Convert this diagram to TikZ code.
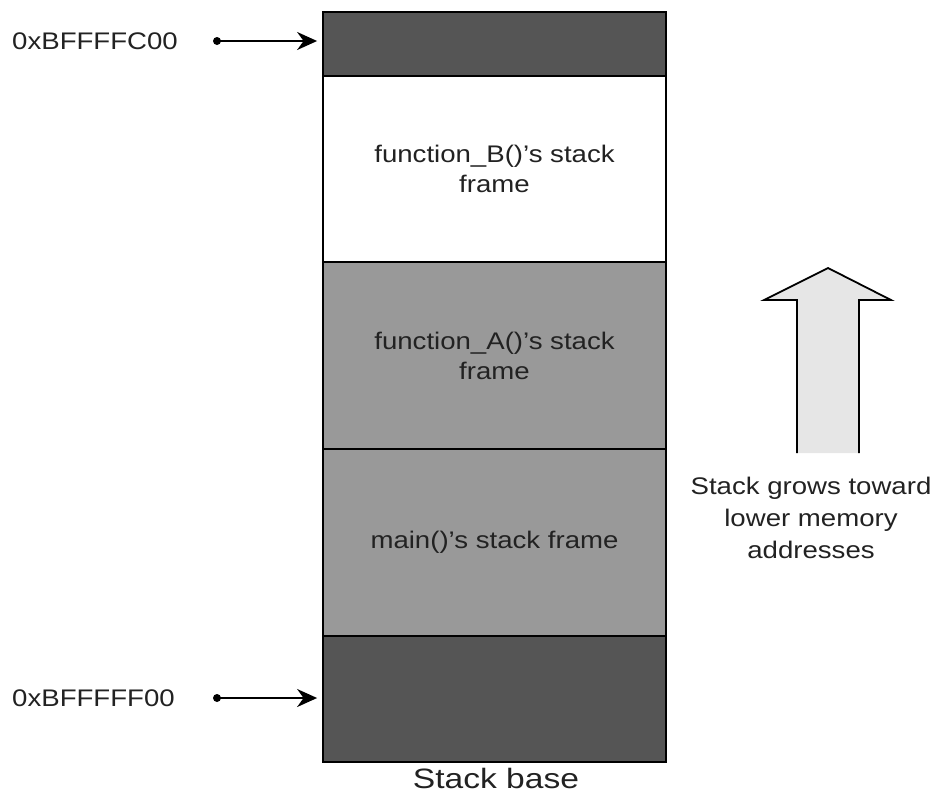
\documentclass[tikz,border=0pt]{standalone}
\usepackage{fontspec}
\setmainfont{Liberation Sans}[FakeStretch=1.15]
\newfontfamily\basefont{Liberation Sans}[FakeStretch=1.2]
\usetikzlibrary{arrows.meta}
\definecolor{darkfill}{HTML}{555555}
\definecolor{midfill}{HTML}{999999}
\definecolor{lightfill}{HTML}{E6E6E6}
\definecolor{txt}{HTML}{222222}
\tikzset{
  block/.style={draw=black, line width=1.8pt, minimum width=343pt, inner sep=0pt, text=txt,
    align=center, font=\fontsize{24}{30}\selectfont},
  lbl/.style={text=txt, font=\fontsize{24}{32}\selectfont, inner sep=0pt, align=center},
  ptr/.style={line width=2pt, -{Stealth[length=20pt,width=18pt]}, shorten >=5pt},
  dotc/.style={circle, fill=black, inner sep=0pt, minimum size=8pt}
}
\begin{document}
\begin{tikzpicture}[x=1pt,y=-1pt]
\useasboundingbox (0,0) rectangle (936,796);
\node[block, fill=darkfill, minimum height=64pt] (top) at (494.5,44) {};
\node[block, fill=white, minimum height=186pt] (fb) at (494.5,169) {function\_B()’s stack\\frame};
\node[block, fill=midfill, minimum height=187pt] (fa) at (494.5,355.5) {function\_A()’s stack\\frame};
\node[block, fill=midfill, minimum height=187pt] (fm) at (494.5,542.5) {main()’s stack frame};
\node[block, fill=darkfill, minimum height=126pt] (bot) at (494.5,699) {};
\node[lbl, font=\basefont\fontsize{28}{32}\selectfont] (base) at (496,778) {Stack base};

\node[lbl, anchor=west] (a1) at (12,41) {0xBFFFFC00};
\node[lbl, anchor=west] (a2) at (12,698) {0xBFFFFF00};
\node[dotc] (d1) at (217,41) {};
\node[dotc] (d2) at (217,698) {};
\draw[ptr] (d1.center) -- (top.west |- d1);
\draw[ptr] (d2.center) -- (bot.west |- d2);

\draw[line width=1.8pt, fill=lightfill, line join=miter]
  (797,453) -- (797,300) -- (764,300) -- (828,268) -- (891,300) -- (859,300) -- (859,453);
\fill[lightfill] (798,300) rectangle (858,453);
\node[lbl] (grow) at (811,518) {Stack grows toward\\lower memory\\addresses};
\end{tikzpicture}
\end{document}
